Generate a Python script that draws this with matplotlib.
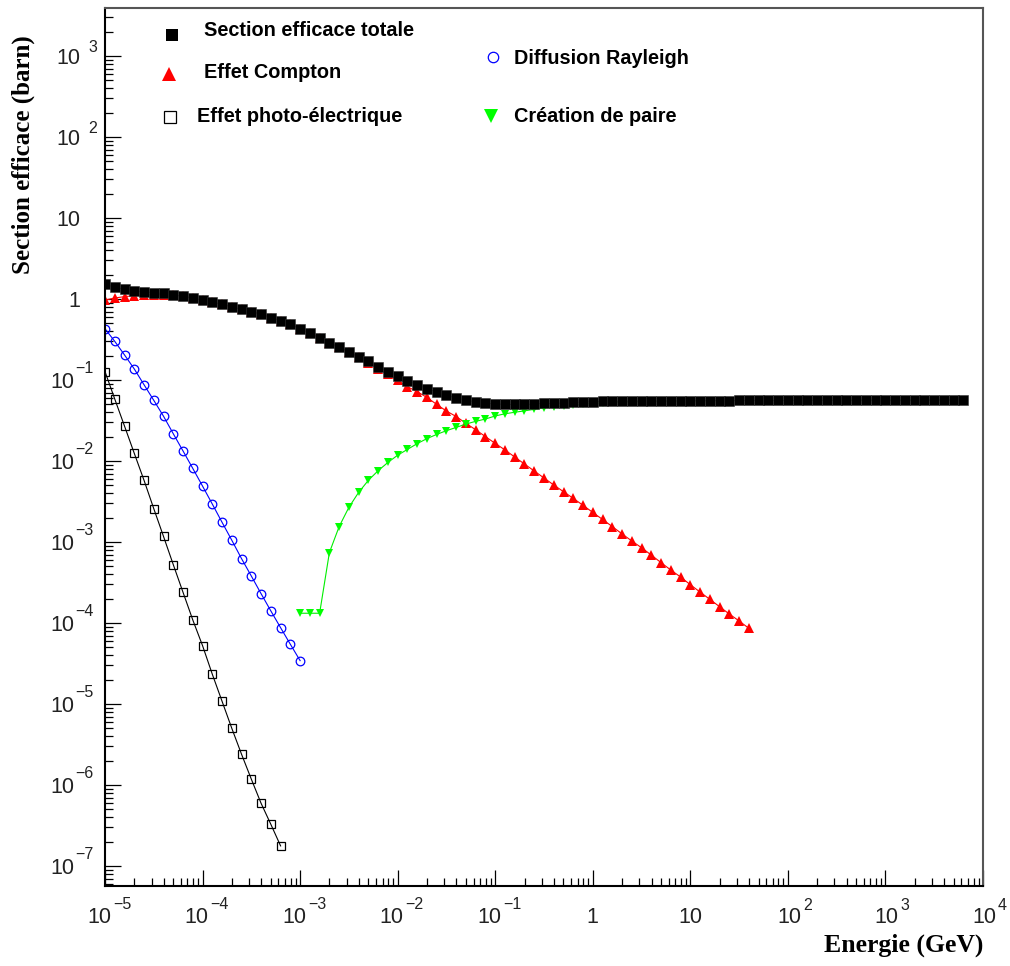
import numpy as np
import matplotlib
matplotlib.use("Agg")
import matplotlib.pyplot as plt
from matplotlib.transforms import offset_copy

plt.rcParams['font.family'] = ['Liberation Sans', 'DejaVu Sans']

# energy grid: 10 points per decade from 1e-5 GeV
energie = np.logspace(-5, 3.8, 89)

# section efficace totale (barn)
totale = [1.53, 1.39, 1.32, 1.26, 1.23, 1.20, 1.17, 1.13, 1.09, 1.03,
          0.97, 0.92, 0.86, 0.80, 0.745, 0.70, 0.65, 0.59, 0.54, 0.49,
          0.43, 0.38, 0.33, 0.29, 0.255, 0.224, 0.194, 0.170, 0.146, 0.127,
          0.113, 0.098, 0.0875, 0.078, 0.071, 0.0647, 0.060, 0.0566, 0.0535, 0.052,
          0.051, 0.050, 0.050, 0.050, 0.0504, 0.0515, 0.0515, 0.052, 0.053, 0.0535,
          0.054, 0.0543, 0.0545, 0.0547, 0.0549, 0.0550, 0.0551, 0.0552, 0.0553, 0.0554,
          0.0555, 0.0556, 0.0557, 0.0558, 0.0558, 0.0559, 0.0560, 0.0560, 0.0561, 0.0561,
          0.0562, 0.0562, 0.0563, 0.0563, 0.0563, 0.0564, 0.0564, 0.0564, 0.0565, 0.0565,
          0.0565, 0.0565, 0.0566, 0.0566, 0.0566, 0.0566, 0.0567, 0.0567, 0.0567]

# effet Compton (first 67 energies)
compton = [0.97, 1.03, 1.07, 1.10, 1.12, 1.13, 1.13, 1.11, 1.08, 1.02,
           0.965, 0.917, 0.858, 0.799, 0.745, 0.70, 0.65, 0.59, 0.54, 0.49,
           0.43, 0.38, 0.33, 0.289, 0.253, 0.221, 0.190, 0.164, 0.138, 0.117,
           0.099, 0.0827, 0.0718, 0.061, 0.050, 0.0414, 0.0354, 0.0292, 0.0243, 0.020,
           0.0165, 0.0137, 0.0112, 0.00918, 0.00753, 0.00617, 0.00506, 0.00418, 0.00346, 0.00284,
           0.00232, 0.0019, 0.00155, 0.00126, 0.00103, 8.5e-4, 6.9e-4, 5.56e-4, 4.51e-4, 3.7e-4,
           2.97e-4, 2.41e-4, 1.96e-4, 1.59e-4, 1.29e-4, 1.06e-4, 8.6e-5]

# effet photo-electrique (first 19 energies)
photo = [0.127, 0.0582, 0.027, 0.01245, 5.78e-3, 2.58e-3, 1.17e-3, 5.25e-4, 2.39e-4, 1.09e-4,
         5.25e-5, 2.33e-5, 1.08e-5, 5.0e-6, 2.39e-6, 1.18e-6, 5.94e-7, 3.27e-7, 1.77e-7]

# diffusion Rayleigh (first 21 energies)
rayleigh = [0.43, 0.30, 0.204, 0.137, 0.0875, 0.0561, 0.0357, 0.0217, 0.0133, 8.1e-3,
            4.9e-3, 2.94e-3, 1.75e-3, 1.05e-3, 6.22e-4, 3.8e-4, 2.3e-4, 1.41e-4, 8.75e-5, 5.46e-5,
            3.43e-5]

# creation de paire (energies from index 20 on)
paire = [1.32e-4, 1.32e-4, 1.32e-4, 7.4e-4, 1.55e-3, 2.68e-3, 4.1e-3, 5.78e-3, 7.6e-3, 9.6e-3,
         0.0118, 0.0139, 0.0164, 0.0189, 0.0213, 0.0237, 0.026, 0.0286, 0.0309, 0.0330,
         0.0360, 0.0383, 0.0400, 0.0416, 0.0435, 0.0452, 0.0465, 0.0478, 0.0493, 0.0505,
         0.0515, 0.0522, 0.0528, 0.0533, 0.0537, 0.0540, 0.0543, 0.0545, 0.0547, 0.0549,
         0.0551, 0.0552, 0.0554, 0.0555, 0.0556, 0.0557, 0.0558, 0.0559, 0.0559, 0.0560,
         0.0561, 0.0561, 0.0562, 0.0562, 0.0563, 0.0563, 0.0564, 0.0564, 0.0564, 0.0565,
         0.0565, 0.0565, 0.0566, 0.0566, 0.0566, 0.0566, 0.0567, 0.0567, 0.0567]

x_decades = list(range(-5, 5))
y_decades = list(range(-7, 4))

W, H = 1010, 966
fig = plt.figure(figsize=(W / 100, H / 100), dpi=100)
ax = fig.add_axes([105 / W, 80 / H, 878 / W, 878 / H])

ax.plot(energie[:len(compton)], compton, color='red', lw=0.8, marker='^', ms=6.6, mew=0)
ax.plot(energie[:len(photo)], photo, color='black', lw=0.8, marker='s', ms=6.0,
        mfc='none', mec='black', mew=0.9)
ax.plot(energie[:len(rayleigh)], rayleigh, color='blue', lw=0.8, marker='o', ms=6.2,
        mfc='none', mec='blue', mew=0.9)
ax.plot(energie[20:20 + len(paire)], paire, color='#00ee00', lw=0.8, marker='v', ms=6.2,
        mfc='#00ff00', mew=0)
ax.plot(energie, totale, color='black', lw=0.6, marker='s', ms=6.9, mec='#333333', mew=0.4)

ax.set_xscale('log')
ax.set_yscale('log')
ax.set_xlim(1e-5, 1e4)
ax.set_ylim(10 ** -7.247, 10 ** 3.593)

ax.xaxis.set_major_locator(matplotlib.ticker.LogLocator(base=10, numticks=20))
ax.yaxis.set_major_locator(matplotlib.ticker.LogLocator(base=10, numticks=20))
ax.xaxis.set_minor_locator(matplotlib.ticker.LogLocator(base=10, subs=np.arange(2, 10), numticks=20))
ax.yaxis.set_minor_locator(matplotlib.ticker.LogLocator(base=10, subs=np.arange(2, 10), numticks=20))
ax.tick_params(which='both', direction='in', top=False, right=False,
               labelbottom=False, labelleft=False, width=0.9, color='black')
ax.tick_params(which='major', length=11.5)
ax.tick_params(which='minor', length=5.8)

for side in ['left', 'bottom']:
    ax.spines[side].set_linewidth(1.5)
    ax.spines[side].set_color('black')
for side in ['top', 'right']:
    ax.spines[side].set_linewidth(1.5)
    ax.spines[side].set_color('#555555')

lab_kw = dict(color='#222222')
base_size, sup_size = 15.5, 11.5


def put(trans, x, y, dx, dy, txt, ha, size):
    tr = offset_copy(trans, fig=fig, x=dx, y=dy, units='dots')
    ax.text(x, y, txt, transform=tr, ha=ha, va='baseline', fontsize=size, **lab_kw)


# y tick labels, ROOT style: "10" then a raised exponent
ytr = ax.get_yaxis_transform()
for n in y_decades:
    yv = 10.0 ** n
    if n in (0, 1):
        put(ytr, 0, yv, -25, -8, str(10 ** n), 'right', base_size)
    elif n > 0:
        put(ytr, 0, yv, -25, -8, '10', 'right', base_size)
        put(ytr, 0, yv, -17, 4, str(n), 'left', sup_size)
    else:
        put(ytr, 0, yv, -31, -8, '10', 'right', base_size)
        put(ytr, 0, yv, -30, 7, '\u2212' + str(-n), 'left', sup_size)

# x tick labels
xtr = ax.get_xaxis_transform()
for n in x_decades:
    xv = 10.0 ** n
    if n in (0, 1):
        put(xtr, xv, 0, 0, -37, str(10 ** n), 'center', base_size)
    elif n > 0:
        put(xtr, xv, 0, 13, -37, '10', 'right', base_size)
        put(xtr, xv, 0, 15, -24, str(n), 'left', sup_size)
    else:
        put(xtr, xv, 0, 6, -37, '10', 'right', base_size)
        put(xtr, xv, 0, 8, -23, '\u2212' + str(-n), 'left', sup_size)

# axis titles
fig.text(983 / W, 1 - 952 / H, 'Energie (GeV)', ha='right', va='baseline',
         fontsize=18.5, fontweight='bold', family='Liberation Serif')
fig.text(23 / W, 1 - 35 / H, 'Section efficace (barn)', rotation=90, ha='center', va='top',
         fontsize=18, fontweight='bold', family='Liberation Serif')


# legend, drawn by hand at the ROOT positions (pixels)
def px(x, y):
    return (x - 105) / 878, (886 - y) / 878


legend_items = [
    ((171.5, 35), dict(marker='s', ms=8.6, color='black', mew=0), (204, 31), 'Section efficace totale'),
    ((168.5, 74), dict(marker='^', ms=10.5, color='red', mew=0), (204, 73), 'Effet Compton'),
    ((169.5, 117), dict(marker='s', ms=8.2, mfc='none', mec='black', mew=0.9), (197, 116),
     'Effet photo-électrique'),
    ((492.5, 57), dict(marker='o', ms=7.5, mfc='none', mec='blue', mew=0.9), (514, 59),
     'Diffusion Rayleigh'),
    ((491, 116), dict(marker='v', ms=10.0, color='#00ff00', mew=0), (514, 116), 'Création de paire'),
]
for (mx, my), style, (tx, ty), txt in legend_items:
    ax.plot(*px(mx, my), transform=ax.transAxes, clip_on=False, ls='none', **style)
    ax.text(*px(tx, ty), txt, transform=ax.transAxes, ha='left', va='center',
            fontsize=14.3, fontweight='bold')

plt.savefig('out.png', dpi=100)
